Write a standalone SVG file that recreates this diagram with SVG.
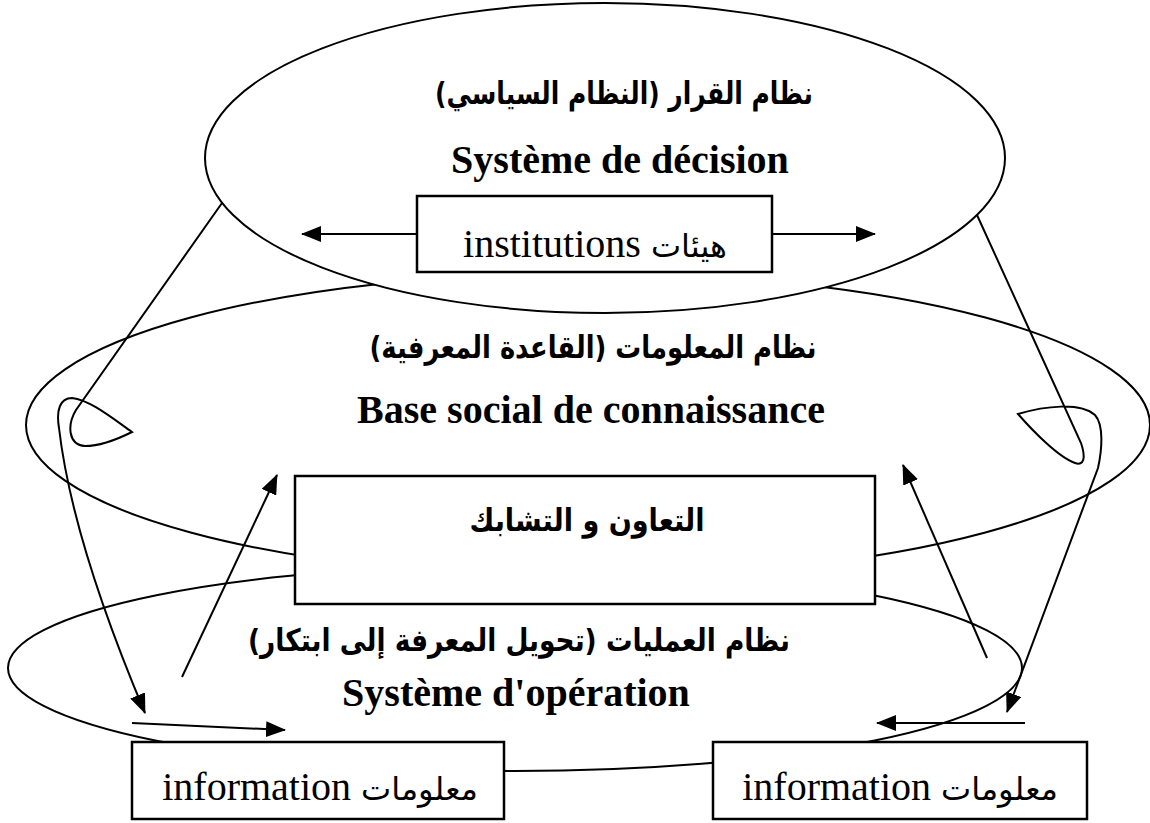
<svg xmlns="http://www.w3.org/2000/svg" width="1150" height="823" viewBox="0 0 1150 823">
<style>
.ln{fill:none;stroke:#000;stroke-width:2}
.el{fill:none;stroke:#000;stroke-width:2}
.elw{fill:#fff;stroke:#000;stroke-width:2}
.bx{fill:#fff;stroke:#000;stroke-width:2.5}
.lat{font-family:"Liberation Serif","DejaVu Sans",serif;font-weight:bold;font-size:40px;fill:#000}
.ar{font-family:"DejaVu Sans","Noto Sans",sans-serif;font-weight:bold;font-size:31px;fill:#000}
.mix{font-family:"Liberation Serif","DejaVu Sans",serif;font-size:40px;fill:#000}
.mixar{font-family:"DejaVu Sans","Noto Sans",sans-serif;font-size:32px}
</style>
<defs>
<marker id="ah" viewBox="0 0 20 16" refX="19" refY="8" markerWidth="20" markerHeight="16" markerUnits="userSpaceOnUse" orient="auto">
<path d="M0,0 L20,8 L0,16 z" fill="#000"/>
</marker>
</defs>
<rect width="1150" height="823" fill="#fff"/>

<g id="node-knowledge">
<ellipse class="el" cx="588" cy="425" rx="562" ry="152"/>
</g>
<g id="node-operation">
<ellipse class="el" cx="515" cy="668" rx="507" ry="103"/>
<text class="ar" x="519" y="651" text-anchor="middle" direction="rtl" textLength="542" lengthAdjust="spacingAndGlyphs">نظام العمليات (تحويل المعرفة إلى ابتكار)</text>
<text class="lat" x="516" y="706" text-anchor="middle">Système d'opération</text>
</g>
<g id="node-decision">
<ellipse class="elw" cx="605" cy="158" rx="400" ry="155"/>
<text class="ar" x="624" y="104" text-anchor="middle" direction="rtl" textLength="378" lengthAdjust="spacingAndGlyphs">نظام القرار (النظام السياسي)</text>
<text class="lat" x="620" y="173" text-anchor="middle">Système de décision</text>
</g>
<g id="node-knowledge-label">
<text class="ar" x="593" y="358" text-anchor="middle" direction="rtl" textLength="447" lengthAdjust="spacingAndGlyphs">نظام المعلومات (القاعدة المعرفية)</text>
<text class="lat" x="591" y="423" text-anchor="middle">Base social de connaissance</text>
</g>
<g id="node-institutions">
<rect class="bx" x="417" y="196" width="355" height="76"/>
<text class="mix" x="595" y="257" text-anchor="middle">institutions <tspan class="mixar">هيئات</tspan></text>
</g>
<g id="node-cooperation">
<rect class="bx" x="295" y="476" width="580" height="128"/>
<text class="ar" x="587" y="531" text-anchor="middle" direction="rtl" textLength="235" lengthAdjust="spacingAndGlyphs">التعاون و التشابك</text>
</g>
<g id="node-info-left">
<rect class="bx" x="132" y="742" width="372" height="77"/>
<text class="mix" x="320" y="800" text-anchor="middle">information <tspan class="mixar">معلومات</tspan></text>
</g>
<g id="node-info-right">
<rect class="bx" x="713" y="742" width="374" height="77"/>
<text class="mix" x="900" y="800" text-anchor="middle">information <tspan class="mixar">معلومات</tspan></text>
</g>

<g id="connectors">
<path class="ln" d="M417 234 L302 234" marker-end="url(#ah)"/>
<path class="ln" d="M772 234 L875 234" marker-end="url(#ah)"/>
<path class="ln" d="M222 203 L76 410 C67 425 68 445 85 446 C100 446 120 438 132 432 C112 418 90 400 72 398 C60 398 56 410 59 428 Q72 540 145 713" marker-end="url(#ah)"/>
<path class="ln" d="M977 215 L1081 443 C1086 458 1084 466 1075 463 C1058 457 1032 430 1018 414 C1045 406 1080 402 1095 415 C1104 425 1102 450 1098 468 L1007 712" marker-end="url(#ah)"/>
<path class="ln" d="M182 677 L277 475" marker-end="url(#ah)"/>
<path class="ln" d="M987 658 L903 465" marker-end="url(#ah)"/>
<path class="ln" d="M132 723 L285 730" marker-end="url(#ah)"/>
<path class="ln" d="M1025 723 L877 723" marker-end="url(#ah)"/>
</g>
</svg>
